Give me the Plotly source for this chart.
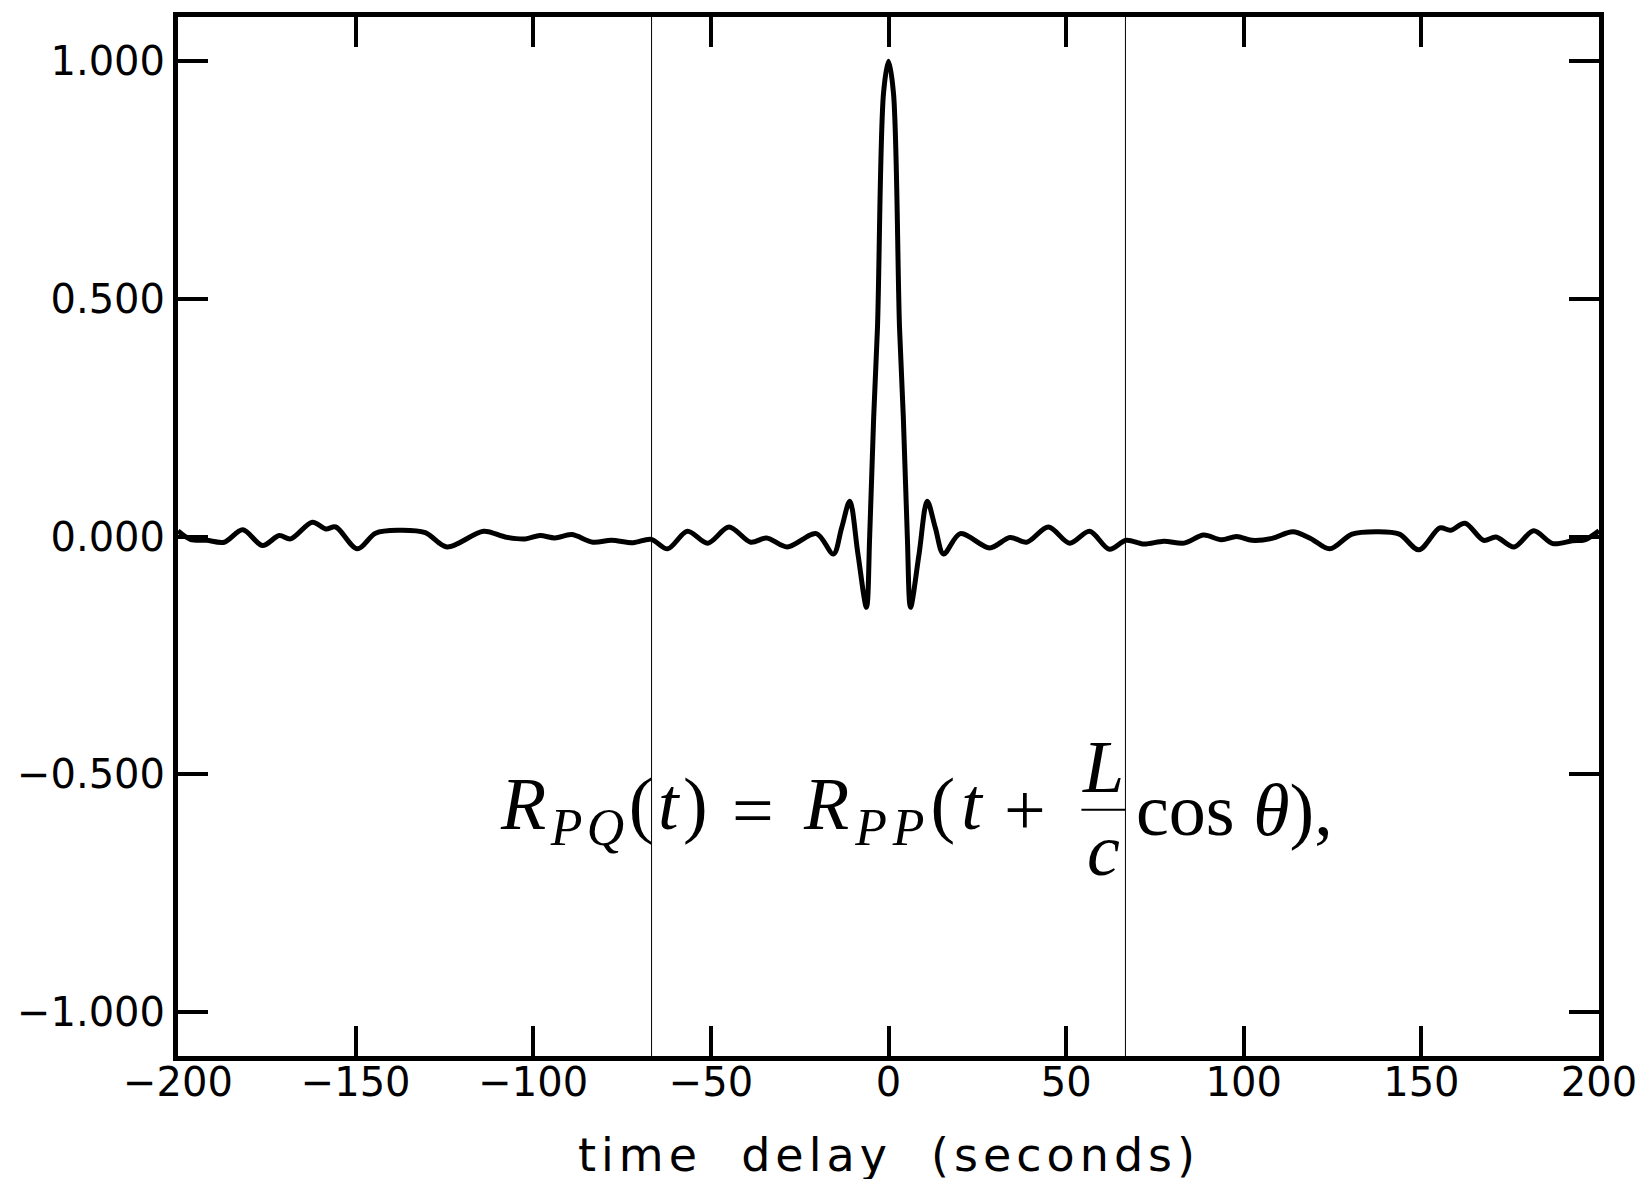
import plotly.graph_objects as go

# ---- data ----
delay_s = [-200, -196.5, -192.0, -187.0, -181.8, -176.2, -171.5, -168.3, -162.2, -158.4,
           -155.6, -149.5, -144.4, -137.8, -130.4, -124.3, -114.0, -107.9, -102.3, -98.1,
           -93.9, -89.2, -83.2, -78.0, -71.9, -66.8, -62.2, -56.6, -50.9, -44.9,
           -38.8, -34.3, -28.5, -20.3, -15.5, -13.2, -10.9, -8.6, -6.2, -5.3,
           -4.2, -3.1, -1.4, 0.0, 1.4, 3.1, 4.2, 5.3, 6.2, 8.6,
           10.9, 13.2, 15.5, 20.2, 28.5, 34.2, 38.9, 45.0, 51.0, 56.6,
           62.2, 66.9, 71.9, 77.5, 83.2, 88.7, 93.7, 98.0, 102.3, 108.0,
           113.8, 118.8, 124.2, 130.5, 137.5, 143.8, 149.3, 155.2, 158.2, 162.3,
           167.5, 171.0, 176.1, 181.6, 187.0, 192.5, 196.0, 200]
corr = [0.012, -0.006, -0.008, -0.012, 0.014, -0.019, 0.002, -0.005, 0.030, 0.016,
        0.020, -0.026, 0.007, 0.013, 0.008, -0.022, 0.011, -0.001, -0.005, 0.002,
        -0.003, 0.004, -0.012, -0.008, -0.013, -0.006, -0.026, 0.011, -0.014, 0.020,
        -0.012, -0.003, -0.022, 0.006, -0.037, 0.018, 0.074, -0.037, -0.149, 0.000,
        0.245, 0.440, 0.933, 1.000, 0.933, 0.440, 0.245, 0.000, -0.149, -0.037,
        0.074, 0.018, -0.037, 0.006, -0.024, -0.002, -0.012, 0.020, -0.014, 0.011,
        -0.027, -0.008, -0.016, -0.010, -0.014, 0.003, -0.007, 0.000, -0.008, -0.004,
        0.010, -0.004, -0.026, 0.005, 0.010, 0.005, -0.028, 0.018, 0.013, 0.028,
        -0.008, -0.001, -0.022, 0.012, -0.015, -0.009, -0.007, 0.012]
marker_lines = [-66.7, 66.7]
x_ticks = [-200, -150, -100, -50, 0, 50, 100, 150, 200]
y_ticks = [-1.0, -0.5, 0.0, 0.5, 1.0]

fig = go.Figure()
fig.add_trace(go.Scatter(
    x=delay_s, y=corr, mode="lines",
    line=dict(color="black", width=5, shape="spline", smoothing=0.9),
    showlegend=False, hoverinfo="skip"))

for xv in marker_lines:
    fig.add_shape(type="line", xref="x", yref="paper", x0=xv, x1=xv, y0=0, y1=1,
                  line=dict(color="black", width=1), layer="above")

# ---- equation (no MathJax offline: built from text pieces) ----
eq_font = dict(family="Liberation Serif, DejaVu Serif, serif", size=74, color="black")
sp = '<span style="letter-spacing:{}px">{}</span>'
y_mid = -0.575
pieces = [
    (sp.format(4.5, "<i>R</i><sub><i>PQ</i></sub>(<i>t</i>)"), -110.0, "left"),
    ("=", -38.2, "center"),
    (sp.format(6, "<i>R</i><sub><i>PP</i></sub>(<i>t</i>"), -24.5, "left"),
    ("+", 38.3, "center"),
    ("cos <i>θ</i>),", 69.0, "left"),
]
for txt, xv, anc in pieces:
    fig.add_annotation(x=xv, y=y_mid, xref="x", yref="y", text=txt, showarrow=False,
                       xanchor=anc, yanchor="middle", font=eq_font)
fig.add_annotation(x=60.5, y=-0.485, xref="x", yref="y", text="<i>L</i>", showarrow=False,
                   xanchor="center", yanchor="middle", font=eq_font)
fig.add_annotation(x=60.5, y=-0.66, xref="x", yref="y", text="<i>c</i>", showarrow=False,
                   xanchor="center", yanchor="middle", font=eq_font)
fig.add_shape(type="line", xref="x", yref="y", x0=54.3, x1=66.7, y0=y_mid, y1=y_mid,
              line=dict(color="black", width=2))

# x-axis title
fig.add_annotation(x=0.5, y=-0.095, xref="paper", yref="paper",
                   text='<span style="letter-spacing:5px">time  delay  (seconds)</span>',
                   showarrow=False, xanchor="center", yanchor="middle",
                   font=dict(family="DejaVu Sans, sans-serif", size=46, color="black"))

tick_font = dict(family="DejaVu Sans, sans-serif", size=40, color="black")
axis_common = dict(
    ticks="inside", ticklen=30, tickwidth=4, tickcolor="black",
    showline=True, linewidth=5, linecolor="black", mirror="ticks",
    showgrid=False, zeroline=False, tickfont=tick_font, automargin=False,
)
fig.update_xaxes(range=[-200, 200], tickvals=x_ticks, ticklabelstandoff=-13, **axis_common)
fig.update_yaxes(range=[-1.093, 1.093], tickvals=y_ticks, tickformat=".3f",
                 ticklabelstandoff=0, **axis_common)

fig.update_layout(
    width=1647, height=1179,
    margin=dict(l=170, r=56, t=9, b=131),
    paper_bgcolor="white", plot_bgcolor="white",
)
fig.write_html("out.html")
